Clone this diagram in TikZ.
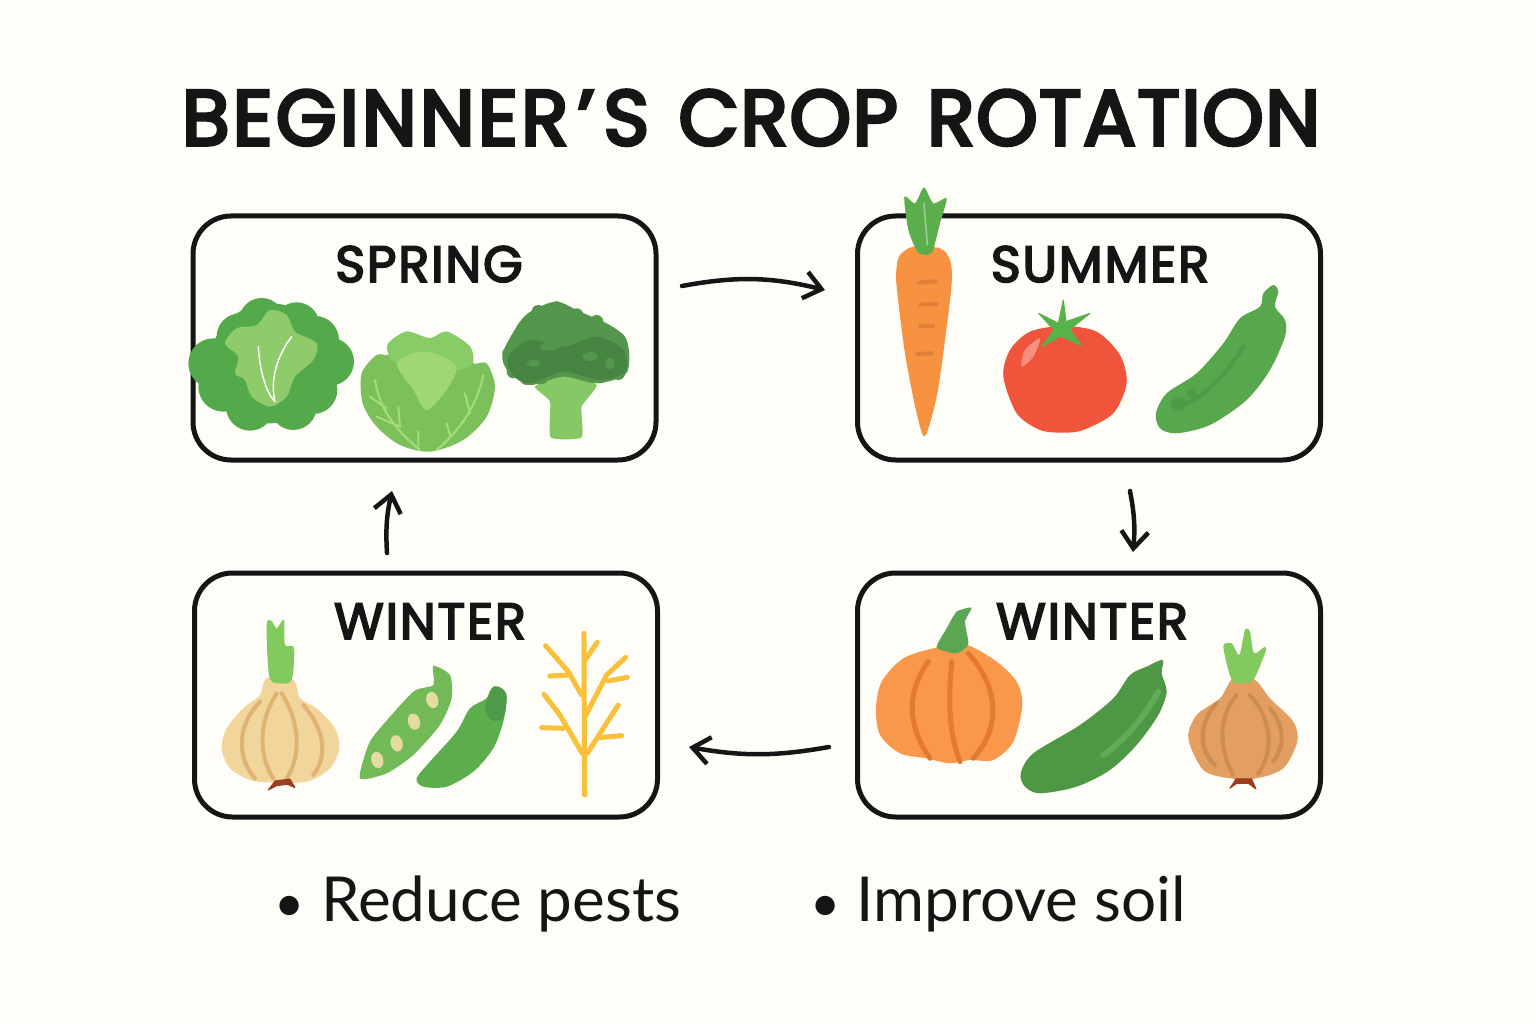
\documentclass[tikz,border=0pt]{standalone}
\usepackage{fontspec}
\usetikzlibrary{arrows.meta}
\setmainfont{Poppins}
\newfontfamily\titlefont[LetterSpace=2.2,WordSpace=1.3,FakeBold=4.5]{Poppins}
\newfontfamily\seasonfont[LetterSpace=3.5,FakeBold=3.5]{Poppins}
\newfontfamily\bulletfont{Lato}
\definecolor{paper}{HTML}{FFFDF8}
\definecolor{ink}{HTML}{151515}
\definecolor{lettuce}{HTML}{54A94B}
\definecolor{lettucein}{HTML}{8FCB6B}
\definecolor{cabbage}{HTML}{7CC05C}
\definecolor{cabbagetop}{HTML}{88CC66}
\definecolor{cabbagein}{HTML}{A0D675}
\definecolor{cabbagerib}{HTML}{A5DC7C}
\definecolor{brocstem}{HTML}{86C766}
\definecolor{brochead}{HTML}{55964D}
\definecolor{brocdark}{HTML}{468441}
\definecolor{carrot}{HTML}{F79240}
\definecolor{carrotrib}{HTML}{E07F38}
\definecolor{leaf}{HTML}{5BAE4B}
\definecolor{tomato}{HTML}{EF553B}
\definecolor{tomatohi}{HTML}{F4907F}
\definecolor{calyx}{HTML}{58B24A}
\definecolor{cuke}{HTML}{57A84C}
\definecolor{cukedark}{HTML}{4F9A49}
\definecolor{cukelight}{HTML}{5FAB58}
\definecolor{garlic}{HTML}{F1D59B}
\definecolor{garlicrib}{HTML}{DFB372}
\definecolor{sprout}{HTML}{82C95E}
\definecolor{root}{HTML}{9B3F1E}
\definecolor{pod}{HTML}{72B957}
\definecolor{pea}{HTML}{E3DBA0}
\definecolor{podcap}{HTML}{4E9C4B}
\definecolor{straw}{HTML}{F9C13A}
\definecolor{pumpkin}{HTML}{F9974A}
\definecolor{pumpkinrib}{HTML}{E37A2F}
\definecolor{onion}{HTML}{E39F62}
\definecolor{onionrib}{HTML}{CF8C51}
\tikzset{
  box/.style={draw=ink,line width=5pt,rounded corners=38pt,fill=paper,
    minimum width=463pt,minimum height=244pt,inner sep=0pt},
  season/.style={font=\seasonfont\fontsize{51}{51}\selectfont,text=ink,anchor=base,inner sep=0pt},
  note/.style={font=\bulletfont\fontsize{62}{62}\selectfont,text=ink,anchor=base west,inner sep=0pt},
  flow/.style={draw=ink,line width=4.5pt,line cap=round,-{Straight Barb[length=17pt,width=27pt,line width=4.5pt]}},
  rib/.style={line width=4pt,line cap=round},
  twig/.style={draw=straw,line width=5pt,line cap=round,line join=round},
}
\begin{document}
\begin{tikzpicture}[x=1pt,y=-1pt]
  \useasboundingbox (0,0) rectangle (1536,1024);
  \fill[paper] (0,0) rectangle (1536,1024);
  \node[font=\titlefont\fontsize{78}{78}\selectfont,text=ink,anchor=base,inner sep=0pt] (title) at (751,145) {{\addfontfeature{LetterSpace=4}BEGINNER}\kern9pt’\kern9pt S CROP ROTATION};
  % the four boxes
  \node[box] (spring) at (424.5,338) {};
  \node[box] (summer) at (1089,338) {};
  \node[box] (winterleft) at (426,695) {};
  \node[box] (winterright) at (1089,695) {};
  \coordinate (springout) at (682,286);
  \coordinate (summerin) at (825,290);
  \coordinate (summerout) at (1130,491);
  \coordinate (winterrightin) at (1133,552);
  \coordinate (winterrightout) at (829,747);
  \coordinate (winterleftin) at (689,747);
  \coordinate (winterleftout) at (387,553);
  \coordinate (springin) at (392,491);
  \draw[flow] (springout) to[bend left=12] (summerin);
  \draw[flow] (summerout) to[bend left=8] (winterrightin);
  \draw[flow] (winterrightout) to[bend left=10] (winterleftin);
  \draw[flow] (winterleftout) to[bend left=8] (springin);
  % spring crops
  \begin{scope}[shift={(180,200)},scale=0.3333]
    \foreach \x/\y/\r in {245/362/68,350/375/68,405/420/72,450/485/72,400/570/72,340/620/70,210/620/72,130/560/75,100/490/75,180/410/70,270/490/180}
      \fill[lettuce] (\x,\y) circle (\r);
    \fill[lettucein] plot[smooth cycle] coordinates {(270,330) (320,345) (345,395) (410,430) (400,480) (345,530) (320,590) (270,620) (215,590) (195,540) (165,520) (175,470) (135,430) (170,385) (230,375)};
    \draw[white,line width=1.5pt,line cap=round] (235,440) .. controls (240,520) and (260,580) .. (285,605);
    \draw[white,line width=1.5pt,line cap=round] (335,410) .. controls (290,470) and (270,540) .. (285,605);
    \fill[cabbage] plot[smooth cycle] coordinates {(545,520) (590,465) (625,465) (625,430) (680,395) (750,415) (800,395) (870,440) (880,490) (920,490) (945,560) (920,650) (850,720) (750,755) (660,735) (590,680) (548,610)};
    \fill[cabbagetop] plot[smooth cycle] coordinates {(625,460) (625,430) (680,395) (750,415) (800,395) (870,440) (878,490) (830,510) (740,470) (650,490)};
    \fill[cabbagein] plot[smooth cycle] coordinates {(650,490) (720,455) (790,470) (830,505) (800,570) (740,630) (700,570)};
    \draw[rib,draw=cabbagerib,line width=2pt] (585,540) .. controls (600,640) and (660,700) .. (720,750);
    \draw[rib,draw=cabbagerib,line width=2pt] (570,590) -- (620,625) (590,650) -- (660,680) (655,620) -- (660,680) (715,695) -- (715,740);
    \draw[rib,draw=cabbagerib,line width=2pt] (910,525) .. controls (890,620) and (840,690) .. (770,750);
    \draw[rib,draw=cabbagerib,line width=2pt] (855,580) -- (870,640) (800,670) -- (810,705);
    \fill[brocstem] plot[smooth cycle,tension=.3] coordinates {(1065,560) (1110,605) (1112,712) (1205,712) (1205,620) (1250,555) (1150,520)};
    \fill[brochead] plot[smooth cycle] coordinates {(968,460) (1020,365) (1060,330) (1130,305) (1200,335) (1280,370) (1335,410) (1348,470) (1335,525) (1250,550) (1150,530) (1050,555) (985,515)};
    \foreach \x/\y/\r in {985/460/18,1000/515/20,1040/535/20,1085/535/18,1030/385/20,1075/335/20,1130/322/18,1190/345/20,1250/365/20,1300/410/20,1325/465/20,1315/520/20,1260/530/20}
      \fill[brochead] (\x,\y) circle (\r);
    \fill[brocdark] plot[smooth cycle] coordinates {(985,470) (1050,420) (1150,440) (1250,410) (1330,450) (1335,515) (1260,540) (1150,515) (1050,550) (995,520)};
    \fill[brochead] (1110,440) ellipse (30 and 12) (1230,470) ellipse (22 and 14) (1060,490) ellipse (20 and 10) (1290,490) ellipse (14 and 18);
  \end{scope}
  % summer crops
  \begin{scope}[shift={(850,180)},scale=0.3333]
    \fill[carrot] plot[smooth cycle,tension=.5] coordinates {(150,225) (190,200) (270,205) (300,240) (305,310) (285,480) (260,650) (225,768) (200,700) (165,520) (140,320) (140,260)};
    \draw[rib,draw=carrotrib] (205,308) -- (258,304) (212,373) -- (262,372) (210,438) -- (250,438) (202,522) -- (245,520);
    \fill[leaf] plot[smooth cycle,tension=.4] coordinates {(205,218) (175,150) (163,50) (195,70) (222,22) (250,70) (290,55) (270,130) (245,218)};
    \draw[leaf!60!white,line width=1.5pt,line cap=round] (232,195) -- (222,70);
    \fill[tomato] plot[smooth cycle] coordinates {(460,590) (480,510) (540,455) (640,438) (740,455) (810,525) (830,610) (790,700) (700,750) (640,758) (570,750) (500,700)};
    \fill[tomatohi] plot[smooth cycle] coordinates {(515,560) (525,510) (570,475) (550,530)};
    \fill[calyx,draw=calyx,line width=1pt,line join=round] (640,360) -- (648,425) -- (720,400) -- (660,448) -- (695,498) -- (632,468) -- (575,500) -- (612,450) -- (566,400) -- (625,430) -- cycle;
    \fill[cuke] plot[smooth cycle] coordinates {(918,700) (950,640) (1040,580) (1120,490) (1170,415) (1230,380) (1240,340) (1270,315) (1285,335) (1275,380) (1305,420) (1305,470) (1260,570) (1190,660) (1080,735) (980,760) (930,745)};
    \draw[rib,draw=cukedark] (985,680) .. controls (1050,660) and (1120,600) .. (1180,500);
    \fill[cukedark] (985,672) circle (22) (1025,640) circle (14);
  \end{scope}
  % winter crops on the left
  \begin{scope}[shift={(180,565)},scale=0.3333]
    \fill[garlic] plot[smooth cycle] coordinates {(260,340) (340,345) (360,400) (410,430) (465,490) (478,550) (450,610) (380,650) (270,652) (210,645) (150,610) (125,550) (140,490) (190,430) (240,390)};
    \draw[rib,draw=garlicrib] (290,385) .. controls (230,480) and (240,580) .. (280,640);
    \draw[rib,draw=garlicrib] (305,385) .. controls (365,480) and (360,580) .. (320,640);
    \draw[rib,draw=garlicrib] (240,410) .. controls (170,480) and (170,580) .. (225,640);
    \draw[rib,draw=garlicrib] (370,420) .. controls (440,500) and (440,580) .. (400,630);
    \fill[sprout] plot[smooth cycle,tension=.5] coordinates {(260,180) (275,168) (290,190) (312,165) (315,240) (342,248) (335,345) (300,355) (268,335)};
    \fill[root,draw=root,line width=1pt,line join=round] (265,675) -- (285,648) -- (330,642) -- (345,668) -- (322,658) -- (290,662) -- cycle;
    \fill[pod] plot[smooth cycle,tension=.4] coordinates {(540,640) (565,540) (600,490) (700,380) (760,360) (760,303) (810,330) (815,400) (780,480) (700,570) (620,625)};
    \foreach \x/\y in {592/585,650/535,702/470,757/405}
      \fill[pea,rotate around={15:(\x,\y)}] (\x,\y) ellipse (18 and 25);
    \fill[leaf] plot[smooth cycle] coordinates {(710,640) (750,590) (830,500) (870,430) (920,400) (940,365) (965,370) (980,395) (970,470) (940,550) (880,620) (800,665) (730,665)};
    \fill[podcap] plot[smooth cycle] coordinates {(915,430) (935,370) (965,370) (980,395) (970,460) (935,465)};
    \begin{scope}[twig]
      \draw (1212,205) -- (1214,690);
      \draw (1212,290) -- (1252,232);
      \draw (1205,390) -- (1165,320) -- (1097,242);
      \draw (1110,333) -- (1170,330);
      \draw (1218,450) -- (1280,330) -- (1337,277);
      \draw (1285,348) -- (1342,337);
      \draw (1207,565) -- (1140,450) -- (1092,388);
      \draw (1085,488) -- (1150,490);
      \draw (1222,565) -- (1270,490) -- (1315,420);
      \draw (1255,518) -- (1325,512);
    \end{scope}
  \end{scope}
  % winter crops on the right
  \begin{scope}[shift={(850,565)},scale=0.3333]
    \fill[pumpkin] plot[smooth cycle] coordinates {(78,430) (95,350) (160,280) (260,248) (350,240) (440,290) (500,350) (517,420) (490,530) (430,585) (360,585) (300,595) (230,580) (150,565) (90,510)};
    \draw[rib,draw=pumpkinrib,line width=5pt] (235,290) .. controls (170,380) and (170,480) .. (240,580);
    \draw[rib,draw=pumpkinrib,line width=5pt] (305,290) .. controls (295,400) and (295,500) .. (330,590);
    \draw[rib,draw=pumpkinrib,line width=5pt] (355,265) .. controls (440,360) and (460,480) .. (370,580);
    \fill[cukelight!70!cukedark] plot[smooth cycle,tension=.35] coordinates {(260,248) (290,190) (320,140) (365,128) (345,170) (355,238) (320,265)};
    \fill[cuke!90!black] plot[smooth cycle] coordinates {(512,625) (550,565) (690,480) (790,400) (840,330) (890,305) (938,285) (935,325) (950,380) (925,450) (860,540) (780,615) (680,665) (570,685) (525,665)};
    \draw[rib,draw=cukelight,line width=6pt] (760,570) .. controls (830,520) and (880,460) .. (925,380);
    \draw[rib,draw=cukedark,line width=2pt] (600,590) .. controls (700,540) and (800,480) .. (880,360);
    \fill[onion] plot[smooth cycle] coordinates {(1150,340) (1215,345) (1260,400) (1330,470) (1342,530) (1300,610) (1220,640) (1140,640) (1060,615) (1015,520) (1040,450) (1110,400)};
    \draw[rib,draw=onionrib] (1100,415) .. controls (1040,480) and (1050,560) .. (1095,600);
    \draw[rib,draw=onionrib] (1160,390) .. controls (1100,460) and (1110,560) .. (1150,630);
    \draw[rib,draw=onionrib] (1200,390) .. controls (1270,470) and (1270,560) .. (1225,625);
    \draw[rib,draw=onionrib] (1260,430) .. controls (1310,490) and (1300,550) .. (1270,590);
    \fill[sprout] plot[smooth cycle,tension=.45] coordinates {(1145,345) (1120,245) (1145,235) (1168,270) (1185,195) (1200,200) (1212,265) (1245,245) (1245,265) (1210,345) (1175,355)};
    \fill[root,draw=root,line width=1pt,line join=round] (1140,670) -- (1158,642) -- (1205,642) -- (1218,672) -- (1195,655) -- (1160,655) -- cycle;
  \end{scope}
  % labels
  \node[season] (springlabel) at (429,282) {SPRING};
  \node[season] (summerlabel) at (1100,282) {SUMMER};
  \node[season] (winterleftlabel) at (430,639) {WINTER};
  \node[season] (winterrightlabel) at (1092,639) {WINTER};
  \node[note] (pests) at (274,921) {{\fontsize{52}{52}\selectfont •}\hspace{17pt}Reduce pests};
  \node[note] (soil) at (810,921) {{\fontsize{52}{52}\selectfont •}\hspace{16pt}Improve soil};
\end{tikzpicture}
\end{document}
